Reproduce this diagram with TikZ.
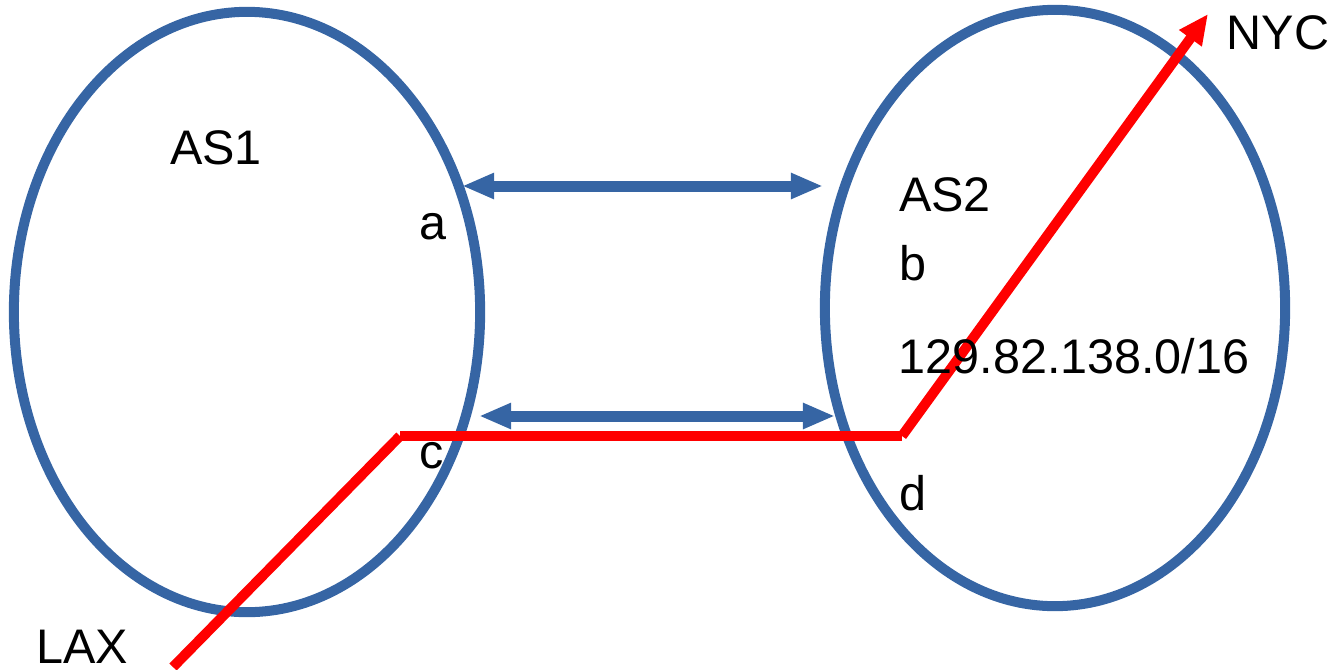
\documentclass[tikz,border=0pt]{standalone}
\usepackage{fontspec}
\setmainfont{Liberation Sans}
\usetikzlibrary{arrows.meta, shapes.geometric}

\definecolor{asblue}{RGB}{54,101,164}

\begin{document}
\begin{tikzpicture}[
  x=0.01cm, y=-0.01cm,
  asbox/.style={ellipse, draw=asblue, line width=0.1cm, inner sep=0pt},
  link/.style={{Triangle[length=0.32cm, width=0.24cm]}-{Triangle[length=0.32cm, width=0.24cm]},
    draw=asblue, line width=0.11cm},
  route/.style={draw=red, line width=0.1cm},
  lbl/.style={font=\fontsize{13.8}{16}\selectfont, inner sep=0pt}
]
\useasboundingbox (0,0) rectangle (1333,669);

\node[asbox, minimum width=4.66cm, minimum height=6.0cm] (as1) at (247,312) {};
\node[asbox, minimum width=4.60cm, minimum height=5.96cm] (as2) at (1055,308) {};

\coordinate (a1) at (462,186);
\coordinate (a2) at (823,186);
\coordinate (b1) at (479,416);
\coordinate (b2) at (835,416);
\draw[link] (a1) -- (a2);
\draw[link] (b1) -- (b2);

% route LAX -> NYC
\coordinate (lax) at (173,667);
\coordinate (c1) at (400,436);
\coordinate (d1) at (902,436);
\coordinate (nyc) at (1208,14);
\draw[route] (lax) -- (c1);
\draw[route] (c1) -- (d1);
\draw[route, -{Triangle[length=0.3cm, width=0.26cm]}] (d1) -- (nyc);

\node[lbl] (t1) at (216,148) {AS1};
\node[lbl] (ta) at (433,227) {a};
\node[lbl] (tc) at (432,456) {c};
\node[lbl] (t2) at (945,195) {AS2};
\node[lbl] (tb) at (913,263) {b};
\node[lbl] (pfx) at (1074,356) {129.82.138.0/16};
\node[lbl] (td) at (913,493) {d};
\node[lbl] (tn) at (1278,33) {NYC};
\node[lbl] (tl) at (82,647) {LAX};
\end{tikzpicture}
\end{document}
